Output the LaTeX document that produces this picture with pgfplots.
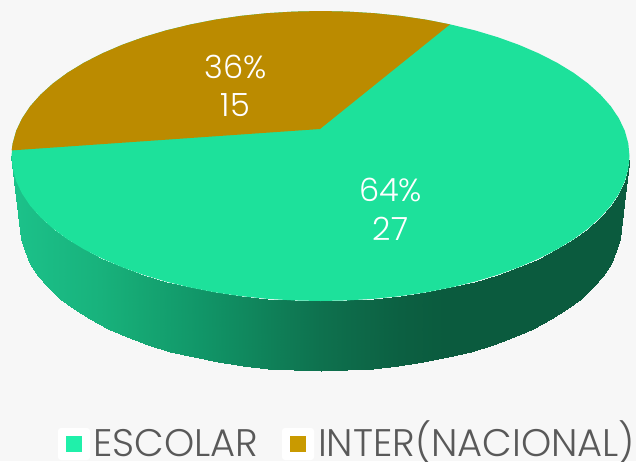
\documentclass[border=0pt]{standalone}
\usepackage{pgfplots}
\pgfplotsset{compat=1.18}
\usepackage{fontspec}
\setmainfont{Poppins Light}
\definecolor{bgc}{RGB}{247,247,247}
\definecolor{topg}{RGB}{29,225,155}
\definecolor{gold}{RGB}{187,139,0}
\definecolor{lg}{RGB}{32,240,170}
\definecolor{lo}{RGB}{201,154,0}
\definecolor{txt}{RGB}{89,89,89}
\pgfplotsset{colormap={side}{
 rgb255(12pt)=(28,194,138)
 rgb255(100pt)=(24,178,124)
 rgb255(130pt)=(22,170,117)
 rgb255(200pt)=(17,150,104)
 rgb255(240pt)=(16,138,95)
 rgb255(320pt)=(14,113,78)
 rgb255(400pt)=(12,96,66)
 rgb255(445pt)=(11,91,62)
 rgb255(630pt)=(11,91,62)}}
\begin{document}
\begin{tikzpicture}[x=1pt,y=1pt]
\clip (0,0) rectangle (636,461);
\fill[bgc] (0,0) rectangle (636,461);
\begin{axis}[at={(0,0)},anchor=south west,scale only axis,width=636pt,height=461pt,
 xmin=0,xmax=636,ymin=0,ymax=461,y dir=reverse,hide axis,clip=false,
 colormap name=side,point meta min=12,point meta max=630]
% side wall: upper rim row, then lower rim row
\addplot[surf,shader=interp,mesh/rows=2,point meta=x] table[row sep=\\]{
x y\\
629.5 156\\ 628.3 168.6\\ 624.8 181.2\\ 619 193.5\\ 610.9 205.6\\ 600.5 217.3\\ 588.1 228.5\\ 573.6 239.2\\ 557.2 249.2\\ 539 258.5\\ 519.1 267.1\\ 497.7 274.8\\ 475 281.6\\ 451.1 287.4\\ 426.2 292.3\\ 400.5 296.1\\ 374.2 298.8\\ 347.4 300.4\\ 320.5 301\\ 293.6 300.4\\ 266.8 298.8\\ 240.5 296.1\\ 214.8 292.3\\ 189.9 287.4\\ 166 281.6\\ 143.3 274.8\\ 121.9 267.1\\ 102 258.5\\ 83.8 249.2\\ 67.4 239.2\\ 52.9 228.5\\ 40.5 217.3\\ 30.1 205.6\\ 22 193.5\\ 16.2 181.2\\ 12.7 168.6\\ 11.5 156\\
621 226\\ 619.9 238.6\\ 616.4 251.2\\ 610.8 263.5\\ 602.9 275.6\\ 592.8 287.3\\ 580.7 298.5\\ 566.7 309.2\\ 550.7 319.2\\ 533 328.5\\ 513.7 337.1\\ 492.9 344.8\\ 470.8 351.6\\ 447.5 357.4\\ 423.3 362.3\\ 398.3 366.1\\ 372.7 368.8\\ 346.7 370.4\\ 320.5 371\\ 294.3 370.4\\ 268.3 368.8\\ 242.7 366.1\\ 217.7 362.3\\ 193.5 357.4\\ 170.2 351.6\\ 148.1 344.8\\ 127.3 337.1\\ 108 328.5\\ 90.3 319.2\\ 74.3 309.2\\ 60.3 298.5\\ 48.2 287.3\\ 38.1 275.6\\ 30.2 263.5\\ 24.6 251.2\\ 21.1 238.6\\ 20 226\\
};
% top face, green
\addplot[fill=topg,draw=none] coordinates {
(629.5,156)(628.3,168.6)(624.8,181.2)(619,193.5)(610.9,205.6)(600.5,217.3)(588.1,228.5)(573.6,239.2)(557.2,249.2)(539,258.5)(519.1,267.1)(497.7,274.8)(475,281.6)(451.1,287.4)(426.2,292.3)(400.5,296.1)(374.2,298.8)(347.4,300.4)(320.5,301)(293.6,300.4)(266.8,298.8)(240.5,296.1)(214.8,292.3)(189.9,287.4)(166,281.6)(143.3,274.8)(121.9,267.1)(102,258.5)(83.8,249.2)(67.4,239.2)(52.9,228.5)(40.5,217.3)(30.1,205.6)(22,193.5)(16.2,181.2)(12.7,168.6)(11.5,156)
(12.7,143.4)(16.2,130.8)(22,118.5)(30.1,106.4)(40.5,94.7)(52.9,83.5)(67.4,72.8)(83.8,62.8)(102,53.5)(121.9,44.9)(143.3,37.2)(166,30.4)(189.9,24.6)(214.8,19.7)(240.5,15.9)(266.8,13.2)(293.6,11.6)(320.5,11)(347.4,11.6)(374.2,13.2)(400.5,15.9)(426.2,19.7)(451.1,24.6)(475,30.4)(497.7,37.2)(519.1,44.9)(539,53.5)(557.2,62.8)(573.6,72.8)(588.1,83.5)(600.5,94.7)(610.9,106.4)(619,118.5)(624.8,130.8)(628.3,143.4)
} -- cycle;
% top face, gold
\addplot[fill=gold,draw=none] coordinates {
(320,129)(11.6,150.4)(12.7,143.4)(16.2,130.8)(22,118.5)(30.1,106.4)(40.5,94.7)(52.9,83.5)(67.4,72.8)(83.8,62.8)(102,53.5)(121.9,44.9)(143.3,37.2)(166,30.4)(189.9,24.6)(214.8,19.7)(240.5,15.9)(266.8,13.2)(293.6,11.6)(320.5,11)(347.4,11.6)(374.2,13.2)(400.5,15.9)(426.2,19.7)(450,24.4)
} -- cycle;
\node[white,font=\fontsize{32}{32}\selectfont,anchor=center] at (axis cs:235.5,67) {36\%};
\node[white,font=\fontsize{32}{32}\selectfont,anchor=center] at (axis cs:235.5,105) {15};
\node[white,font=\fontsize{32}{32}\selectfont,anchor=center] at (axis cs:390.5,190) {64\%};
\node[white,font=\fontsize{32}{32}\selectfont,anchor=center] at (axis cs:390.5,229) {27};
% legend
\fill[white,rounded corners=3pt] (axis cs:58,428) rectangle (axis cs:90,460);
\fill[lg] (axis cs:66,436) rectangle (axis cs:82,452);
\fill[white,rounded corners=3pt] (axis cs:282,428) rectangle (axis cs:314,460);
\fill[lo] (axis cs:290,436) rectangle (axis cs:306,452);
\node[txt,font=\fontsize{38.4}{39}\selectfont,anchor=base west,inner sep=0pt] at (axis cs:93,456) {ESCOLAR};
\node[txt,font=\fontsize{38.4}{39}\selectfont,anchor=base west,inner sep=0pt] at (axis cs:318,456) {INTER(NACIONAL)};
\end{axis}
\end{tikzpicture}
\end{document}
